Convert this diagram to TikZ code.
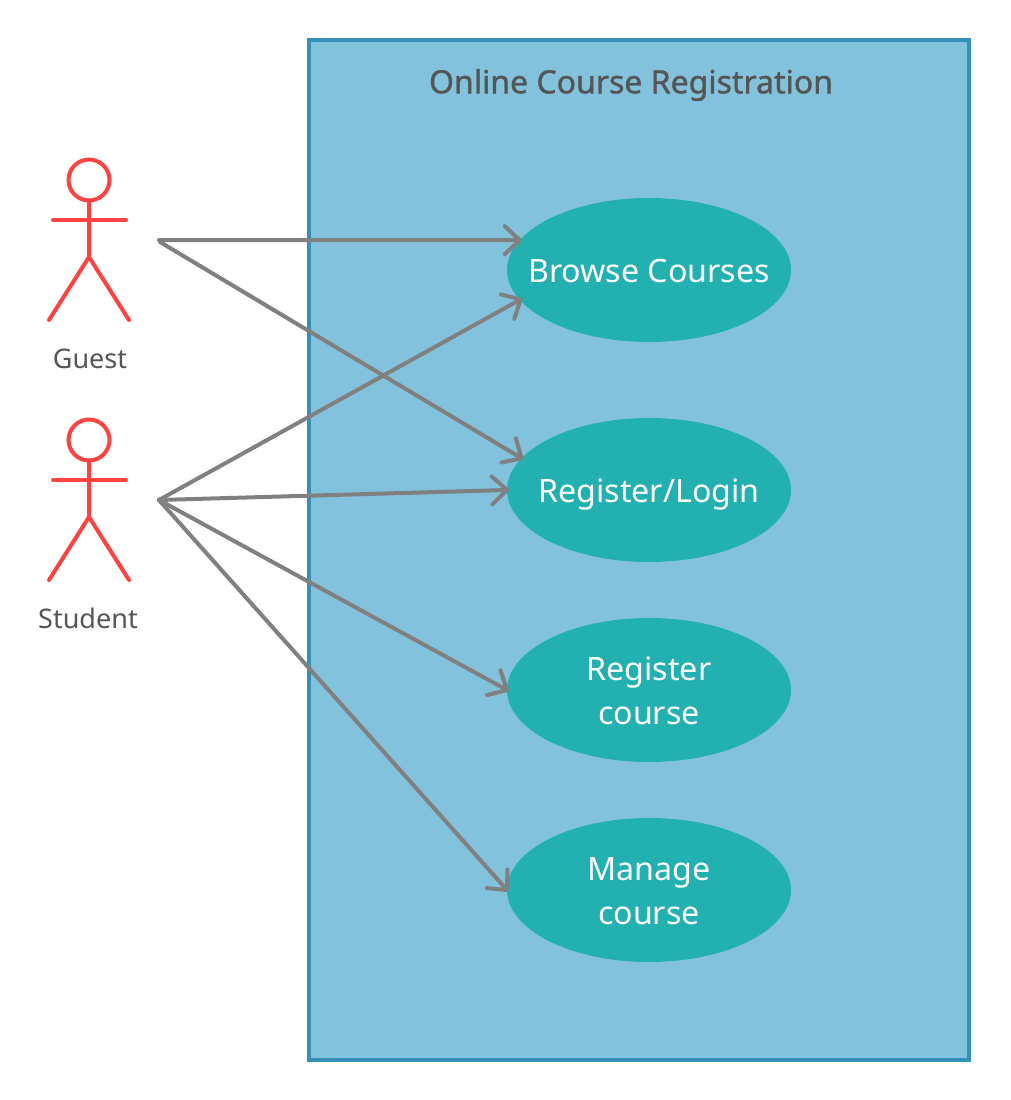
\documentclass[tikz,border=0pt]{standalone}
\usepackage{fontspec}
\setmainfont{Noto Sans}
\usetikzlibrary{shapes.geometric,arrows.meta}
\definecolor{sysfill}{HTML}{83C2DC}
\definecolor{sysline}{HTML}{3590B5}
\definecolor{ucfill}{HTML}{23B0B0}
\definecolor{actorred}{HTML}{FF4343}
\definecolor{linkgray}{HTML}{808080}
\definecolor{txtgray}{HTML}{555555}
\newcommand{\oneline}[1]{\raisebox{-12pt}[0pt][0pt]{\makebox[0pt][c]{#1}}}
\newcommand{\twolines}[2]{\raisebox{10pt}[0pt][0pt]{\makebox[0pt][c]{#1}}\raisebox{-34pt}[0pt][0pt]{\makebox[0pt][c]{#2}}}
\tikzset{
  usecase/.style={ellipse,fill=ucfill,minimum width=284pt,minimum height=144pt,inner sep=0pt,outer sep=0pt,text=white,font=\fontsize{32.2}{44}\selectfont},
  system/.style={draw=sysline,fill=sysfill,line width=4pt,minimum width=660pt,minimum height=1020pt,inner sep=0pt,outer sep=0pt},
  title/.style={text=txtgray,font=\fontsize{32}{38}\selectfont,inner sep=0pt},
  actorlabel/.style={text=txtgray,font=\fontsize{27}{30}\selectfont,inner sep=0pt},
  limb/.style={draw=actorred,line width=4pt,line cap=round,line join=round},
  link/.style={draw=linkgray,line width=4pt,line cap=round,-{Straight Barb[length=15pt,width=28pt,line width=4pt,round]}},
}
\begin{document}
\begin{tikzpicture}[x=1pt,y=-1pt]
\useasboundingbox[fill=white] (0,0) rectangle (1010,1100);
\node[system] (sys) at (639,550) {};
\node[title] (ttl) at (631,85) {\addfontfeature{FakeBold=1.2}Online Course Registration};
\node[usecase] (browse) at (649,270) {\oneline{Browse Courses}};
\node[usecase] (login) at (649,490) {\oneline{Register/Login}};
\node[usecase] (reg) at (649,690) {\twolines{Register}{course}};
\node[usecase] (manage) at (649,890) {\twolines{Manage}{course}};
% Guest
\node[circle,limb,minimum size=41pt,inner sep=0pt,outer sep=0pt] (ghead) at (89,180) {};
\coordinate (ghip) at (89,257);
\coordinate (gla) at (53,220);
\coordinate (gra) at (126,220);
\coordinate (glf) at (49,320);
\coordinate (grf) at (129,320);
\draw[limb] (ghead.south) -- (ghip);
\draw[limb] (gla) -- (gra);
\draw[limb] (glf) -- (ghip) -- (grf);
\node[actorlabel] (glabel) at (90,359) {Guest};
% Student
\node[circle,limb,minimum size=41pt,inner sep=0pt,outer sep=0pt] (shead) at (89,440) {};
\coordinate (ship) at (89,517);
\coordinate (sla) at (53,480);
\coordinate (sra) at (126,480);
\coordinate (slf) at (49,580);
\coordinate (srf) at (129,580);
\draw[limb] (shead.south) -- (ship);
\draw[limb] (sla) -- (sra);
\draw[limb] (slf) -- (ship) -- (srf);
\node[actorlabel] (slabel) at (88,618) {Student};
% Connectors
\coordinate (gport) at (159,240);
\coordinate (gportb) at (160,242);
\coordinate (sport) at (159,500);
\draw[link,shorten >=-2pt] (gport) -- (browse.167.1);
\draw[link,shorten >=-2pt] (gportb) -- (login.166.3);
\draw[link,shorten >=-3pt] (sport) -- (browse.193.5);
\draw[link,shorten >=-2pt] (sport) -- (login.west);
\draw[link,shorten >=-2pt] (sport) -- (reg.west);
\draw[link,shorten >=-2pt] (sport) -- (manage.west);
\end{tikzpicture}
\end{document}
